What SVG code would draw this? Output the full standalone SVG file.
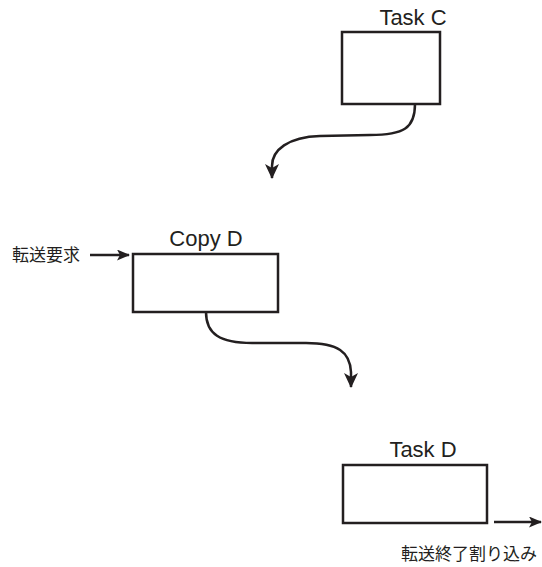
<svg xmlns="http://www.w3.org/2000/svg" width="542" height="567" viewBox="0 0 542 567">
<defs>
<style>
.box{fill:#fff;stroke:#231f20;stroke-width:2.5}
.lbl{font-family:"Liberation Sans",Arial,sans-serif;font-size:22px;fill:#231f20;text-anchor:middle}
.jp{font-family:"Liberation Sans","Noto Sans CJK JP",sans-serif;font-size:17px;fill:#231f20}
.con{fill:none;stroke:#231f20;stroke-width:2.5}
</style>
<marker id="ah" viewBox="0 0 15 14" markerWidth="15" markerHeight="14" refX="14" refY="7" orient="auto" markerUnits="userSpaceOnUse">
<path d="M0,0 L15,7 L0,14 L4,7 z" fill="#231f20"/>
</marker>
<marker id="ahs" viewBox="0 0 13 11" markerWidth="13" markerHeight="11" refX="12" refY="5.5" orient="auto" markerUnits="userSpaceOnUse">
<path d="M0,0 L13,5.5 L0,11 L3,5.5 z" fill="#231f20"/>
</marker>
</defs>
<g id="taskC">
<rect class="box" x="342" y="32" width="98" height="72"/>
<text class="lbl" x="413" y="25">Task C</text>
</g>
<g id="copyD">
<rect class="box" x="133" y="254" width="145" height="58"/>
<text class="lbl" x="206" y="246">Copy D</text>
</g>
<g id="taskD">
<rect class="box" x="343" y="465" width="144" height="58"/>
<text class="lbl" x="423" y="457">Task D</text>
</g>
<g id="req">
<text class="jp" x="12" y="261">転送要求</text>
</g>
<g id="done">
<text class="jp" x="401" y="560">転送終了割り込み</text>
</g>
<g id="connectors">
<path class="con" d="M415,104 C415,128 404,135 370,135 L320,136 C288,137 272,150 272,166 L272,178" marker-end="url(#ah)"/>
<path class="con" d="M206,312 C206,334 220,343 252,343 L306,343 C338,343 350,352 351,372 L351,387" marker-end="url(#ah)"/>
<path class="con" d="M90,255 L129,255" marker-end="url(#ahs)"/>
<path class="con" d="M494,522 L541,522" marker-end="url(#ahs)"/>
</g>
</svg>
